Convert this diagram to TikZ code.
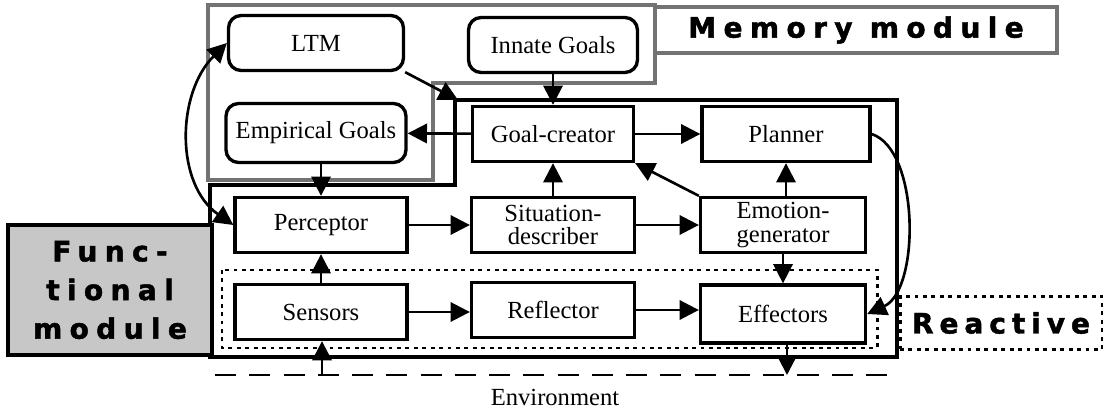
\documentclass[tikz,border=0pt]{standalone}
\usepackage{fontspec}
\setmainfont{Liberation Serif}
\newfontfamily\modfont[LetterSpace=26, BoldFeatures={FakeBold=1.6}]{DejaVu Sans}
\newfontfamily\reactfont[LetterSpace=21, BoldFeatures={FakeBold=1.6}]{DejaVu Sans}
\usetikzlibrary{arrows.meta}

\begin{document}
\begin{tikzpicture}[
    x=0.02cm, y=-0.02cm,
    box/.style={rectangle, draw=black, line width=1.9pt, fill=white, minimum width=3.3cm, minimum height=1.1cm, align=center, inner sep=1pt, font=\fontsize{14}{13.5}\selectfont},
    rbox/.style={box, rounded corners=0.25cm},
    arrow/.style={-{Triangle[length=11pt, width=11pt]}, line width=1.5pt},
    memline/.style={draw=black!55, line width=2.4pt},
    funcline/.style={draw=black, line width=2pt},
    reactline/.style={draw=black, line width=1.7pt, dash pattern=on 2.2pt off 2.6pt},
    envline/.style={draw=black, line width=1.5pt, dash pattern=on 12pt off 7.5pt},
    modlabel/.style={font=\modfont\bfseries\fontsize{16}{22}\selectfont, align=center}
]
    \useasboundingbox (0,0) rectangle (1108,408);

    % --- Module outlines ---
    \draw[memline] (208,5) -- (655,5) -- (655,83) -- (433,83) -- (433,180) -- (208,180) -- cycle;
    \draw[funcline] (455,100) -- (897,100) -- (897,357) -- (210,357) -- (210,185) -- (455,185) -- cycle;
    \draw[reactline] (222,270) rectangle (877,348);
    \draw[envline] (215,375) -- (895,375);

    % --- Module labels ---
    \node[modlabel, memline, fill=white, minimum width=8.04cm, minimum height=0.92cm] (MemLabel) at (856,30) {Memory module};
    \node[modlabel, funcline, fill=black!22, minimum width=4.08cm, minimum height=2.6cm] (FuncLabel) at (110,290) {Func-\\tional\\module};
    \node[reactline, font=\reactfont\bfseries\fontsize{16}{18}\selectfont, minimum width=4.04cm, minimum height=1.06cm] (ReactLabel) at (1001,323) {Reactive\hspace{0.45cm}};

    % --- Memory nodes ---
    \node[rbox, minimum width=3.5cm] (LTM) at (316,43) {LTM};
    \node[rbox, minimum width=3.38cm] (Innate) at (553,45) {Innate Goals};
    \node[rbox, minimum width=3.6cm, minimum height=1.18cm] (Emp) at (316,133) {Empirical Goals};

    % --- Functional nodes ---
    \node[box, minimum width=3.22cm] (Goal) at (553,134) {Goal-creator};
    \node[box, minimum width=3.36cm] (Plan) at (786,134) {Planner};
    \node[box, minimum width=3.44cm] (Perc) at (321,225) {Perceptor};
    \node[box, minimum width=3.26cm] (Sit) at (553,225) {Situation-\\describer};
    \node[box] (Emo) at (783,225) {Emotion-\\generator};
    \node[box, minimum width=3.44cm] (Sens) at (321,312) {Sensors};
    \node[box, minimum width=3.26cm] (Refl) at (553,310) {Reflector};
    \node[box, minimum height=1.16cm] (Eff) at (783,314) {Effectors};

    % --- Environment ---
    \node[font=\fontsize{14}{14}\selectfont] (Env) at (555,397) {Environment};
    \coordinate (EnvIn) at (322,375);
    \coordinate (EnvOut) at (787,375);
    \coordinate (FMcorner) at (458,100);

    % --- Connectors ---
    \draw[arrow, {Triangle[length=11pt, width=11pt]}-{Triangle[length=11pt, width=11pt]}] (LTM.west) to[out=225, in=145] (Perc.west);
    \draw[arrow] (LTM.south east) -- (FMcorner);
    \draw[arrow] (Innate) -- (Goal);
    \draw[arrow] (Goal) -- (Emp);
    \draw[arrow] (Goal) -- (Plan);
    \draw[arrow] (Emp.south -| Perc) -- (Perc);
    \draw[arrow] (Perc) -- (Sit);
    \draw[arrow] (Sit) -- (Goal);
    \draw[arrow] (Sit) -- (Emo);
    \draw[arrow] (Emo.north west) -- (Goal.south east);
    \draw[arrow] (Emo.north -| Plan) -- (Plan);
    \draw[arrow] (Emo) -- (Eff);
    \draw[arrow] (Sens) -- (Perc);
    \draw[arrow] (Sens) -- (Refl.west |- Sens);
    \draw[arrow] (Refl) -- (Eff.west |- Refl);
    \draw[arrow] (Plan.east) .. controls (920,150) and (920,290) .. (Eff.east);
    \draw[arrow] (Eff.south -| EnvOut) -- (EnvOut);
    \draw[arrow] (EnvIn) -- (Sens.south -| EnvIn);
\end{tikzpicture}
\end{document}
